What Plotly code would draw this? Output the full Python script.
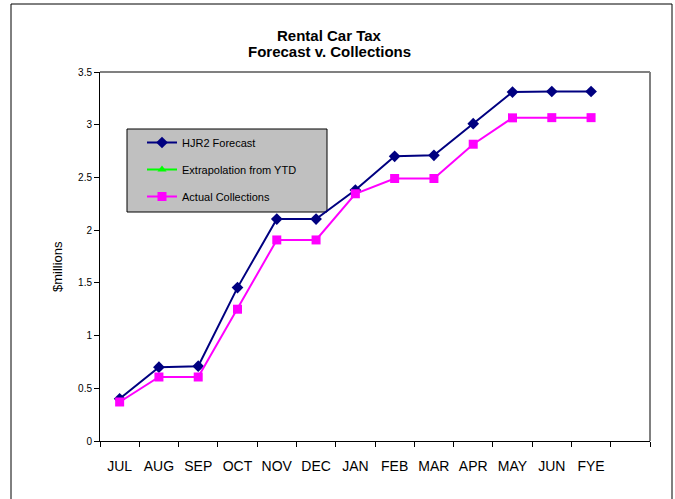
import plotly.graph_objects as go

# Month labels plus a blank trailing slot on the category axis
months = ["JUL", "AUG", "SEP", "OCT", "NOV", "DEC", "JAN",
          "FEB", "MAR", "APR", "MAY", "JUN", "FYE"]
axis_categories = months + [" "]

# Cumulative values, $ millions
forecast = [0.40, 0.70, 0.71, 1.455, 2.105, 2.105, 2.38,
            2.70, 2.71, 3.01, 3.31, 3.315, 3.315]
extrapolation = [None] * len(axis_categories)
actual = [0.37, 0.607, 0.607, 1.25, 1.907, 1.907, 2.345,
          2.49, 2.49, 2.815, 3.065, 3.067, 3.067]

FONT = "Liberation Sans, Arial, sans-serif"

fig = go.Figure()
fig.add_trace(go.Scatter(
    x=months, y=forecast, name="HJR2 Forecast", mode="lines+markers",
    line=dict(color="#000080", width=2),
    marker=dict(symbol="diamond", size=9, color="#000080"),
    legendgroup="a"))
fig.add_trace(go.Scatter(
    x=axis_categories, y=extrapolation, name="Extrapolation from YTD",
    mode="lines+markers",
    line=dict(color="#00FF00", width=2),
    marker=dict(symbol="triangle-up", size=8, color="#00FF00"),
    legendgroup="b"))
fig.add_trace(go.Scatter(
    x=months, y=actual, name="Actual Collections", mode="lines+markers",
    line=dict(color="#FF00FF", width=2),
    marker=dict(symbol="square", size=9, color="#FF00FF"),
    legendgroup="c"))

L, R, T, B = 100, 25, 72, 58
W, H = 675, 499
pw, ph = W - L - R, H - T - B


def px(x):
    return (x - L) / pw


def py(y):
    return (H - B - y) / ph


shapes = [
    # outer frame
    dict(type="rect", xref="paper", yref="paper",
         x0=px(11), x1=px(672), y0=py(510), y1=py(4),
         line=dict(color="#000000", width=1), layer="below"),
    # plot area top and right edges
    dict(type="line", xref="paper", yref="paper", x0=0, x1=1, y0=1, y1=1,
         line=dict(color="#808080", width=2)),
    dict(type="line", xref="paper", yref="paper", x0=1, x1=1, y0=0, y1=1,
         line=dict(color="#808080", width=2)),
    # legend box
    dict(type="rect", xref="paper", yref="paper",
         x0=px(127), x1=px(327), y0=py(212), y1=py(129),
         fillcolor="#C0C0C0", line=dict(color="#000000", width=1),
         layer="below"),
]

annotations = [
    dict(text="<b>Rental Car Tax</b>", xref="paper", yref="paper",
         x=px(329), y=py(35.5), xanchor="center", yanchor="middle",
         showarrow=False,
         font=dict(family=FONT, size=15, color="#000000")),
    dict(text="<b>Forecast v. Collections</b>", xref="paper", yref="paper",
         x=px(329), y=py(52), xanchor="center", yanchor="middle",
         showarrow=False,
         font=dict(family=FONT, size=15, color="#000000")),
    dict(text="$millions", xref="paper", yref="paper",
         x=px(57), y=py(267), xanchor="center", yanchor="middle",
         showarrow=False, textangle=-90,
         font=dict(family=FONT, size=13, color="#000000")),
]

fig.update_layout(
    width=W, height=H,
    margin=dict(l=L, r=R, t=T, b=B),
    paper_bgcolor="white", plot_bgcolor="white",
    font=dict(family=FONT, color="#000000"),
    showlegend=True,
    legend=dict(
        x=px(142), y=py(128), xanchor="left", yanchor="top",
        bgcolor="rgba(0,0,0,0)", borderwidth=0,
        font=dict(family=FONT, size=11),
        tracegroupgap=8, itemwidth=30),
    shapes=shapes,
    annotations=annotations,
    xaxis=dict(
        type="category", categoryorder="array", categoryarray=axis_categories,
        range=[-0.5, 13.5], tickson="boundaries", tickangle=0,
        ticks="outside", ticklen=5, tickcolor="#000000",
        ticklabelstandoff=12,
        showline=True, linecolor="#000000", linewidth=1,
        showgrid=False, zeroline=False,
        tickfont=dict(family=FONT, size=14)),
    yaxis=dict(
        range=[0, 3.5], dtick=0.5, tick0=0,
        ticks="outside", ticklen=5, tickcolor="#000000",
        showline=True, linecolor="#000000", linewidth=1,
        showgrid=False, zeroline=False,
        tickfont=dict(family=FONT, size=10)),
)

fig.write_html("out.html")
